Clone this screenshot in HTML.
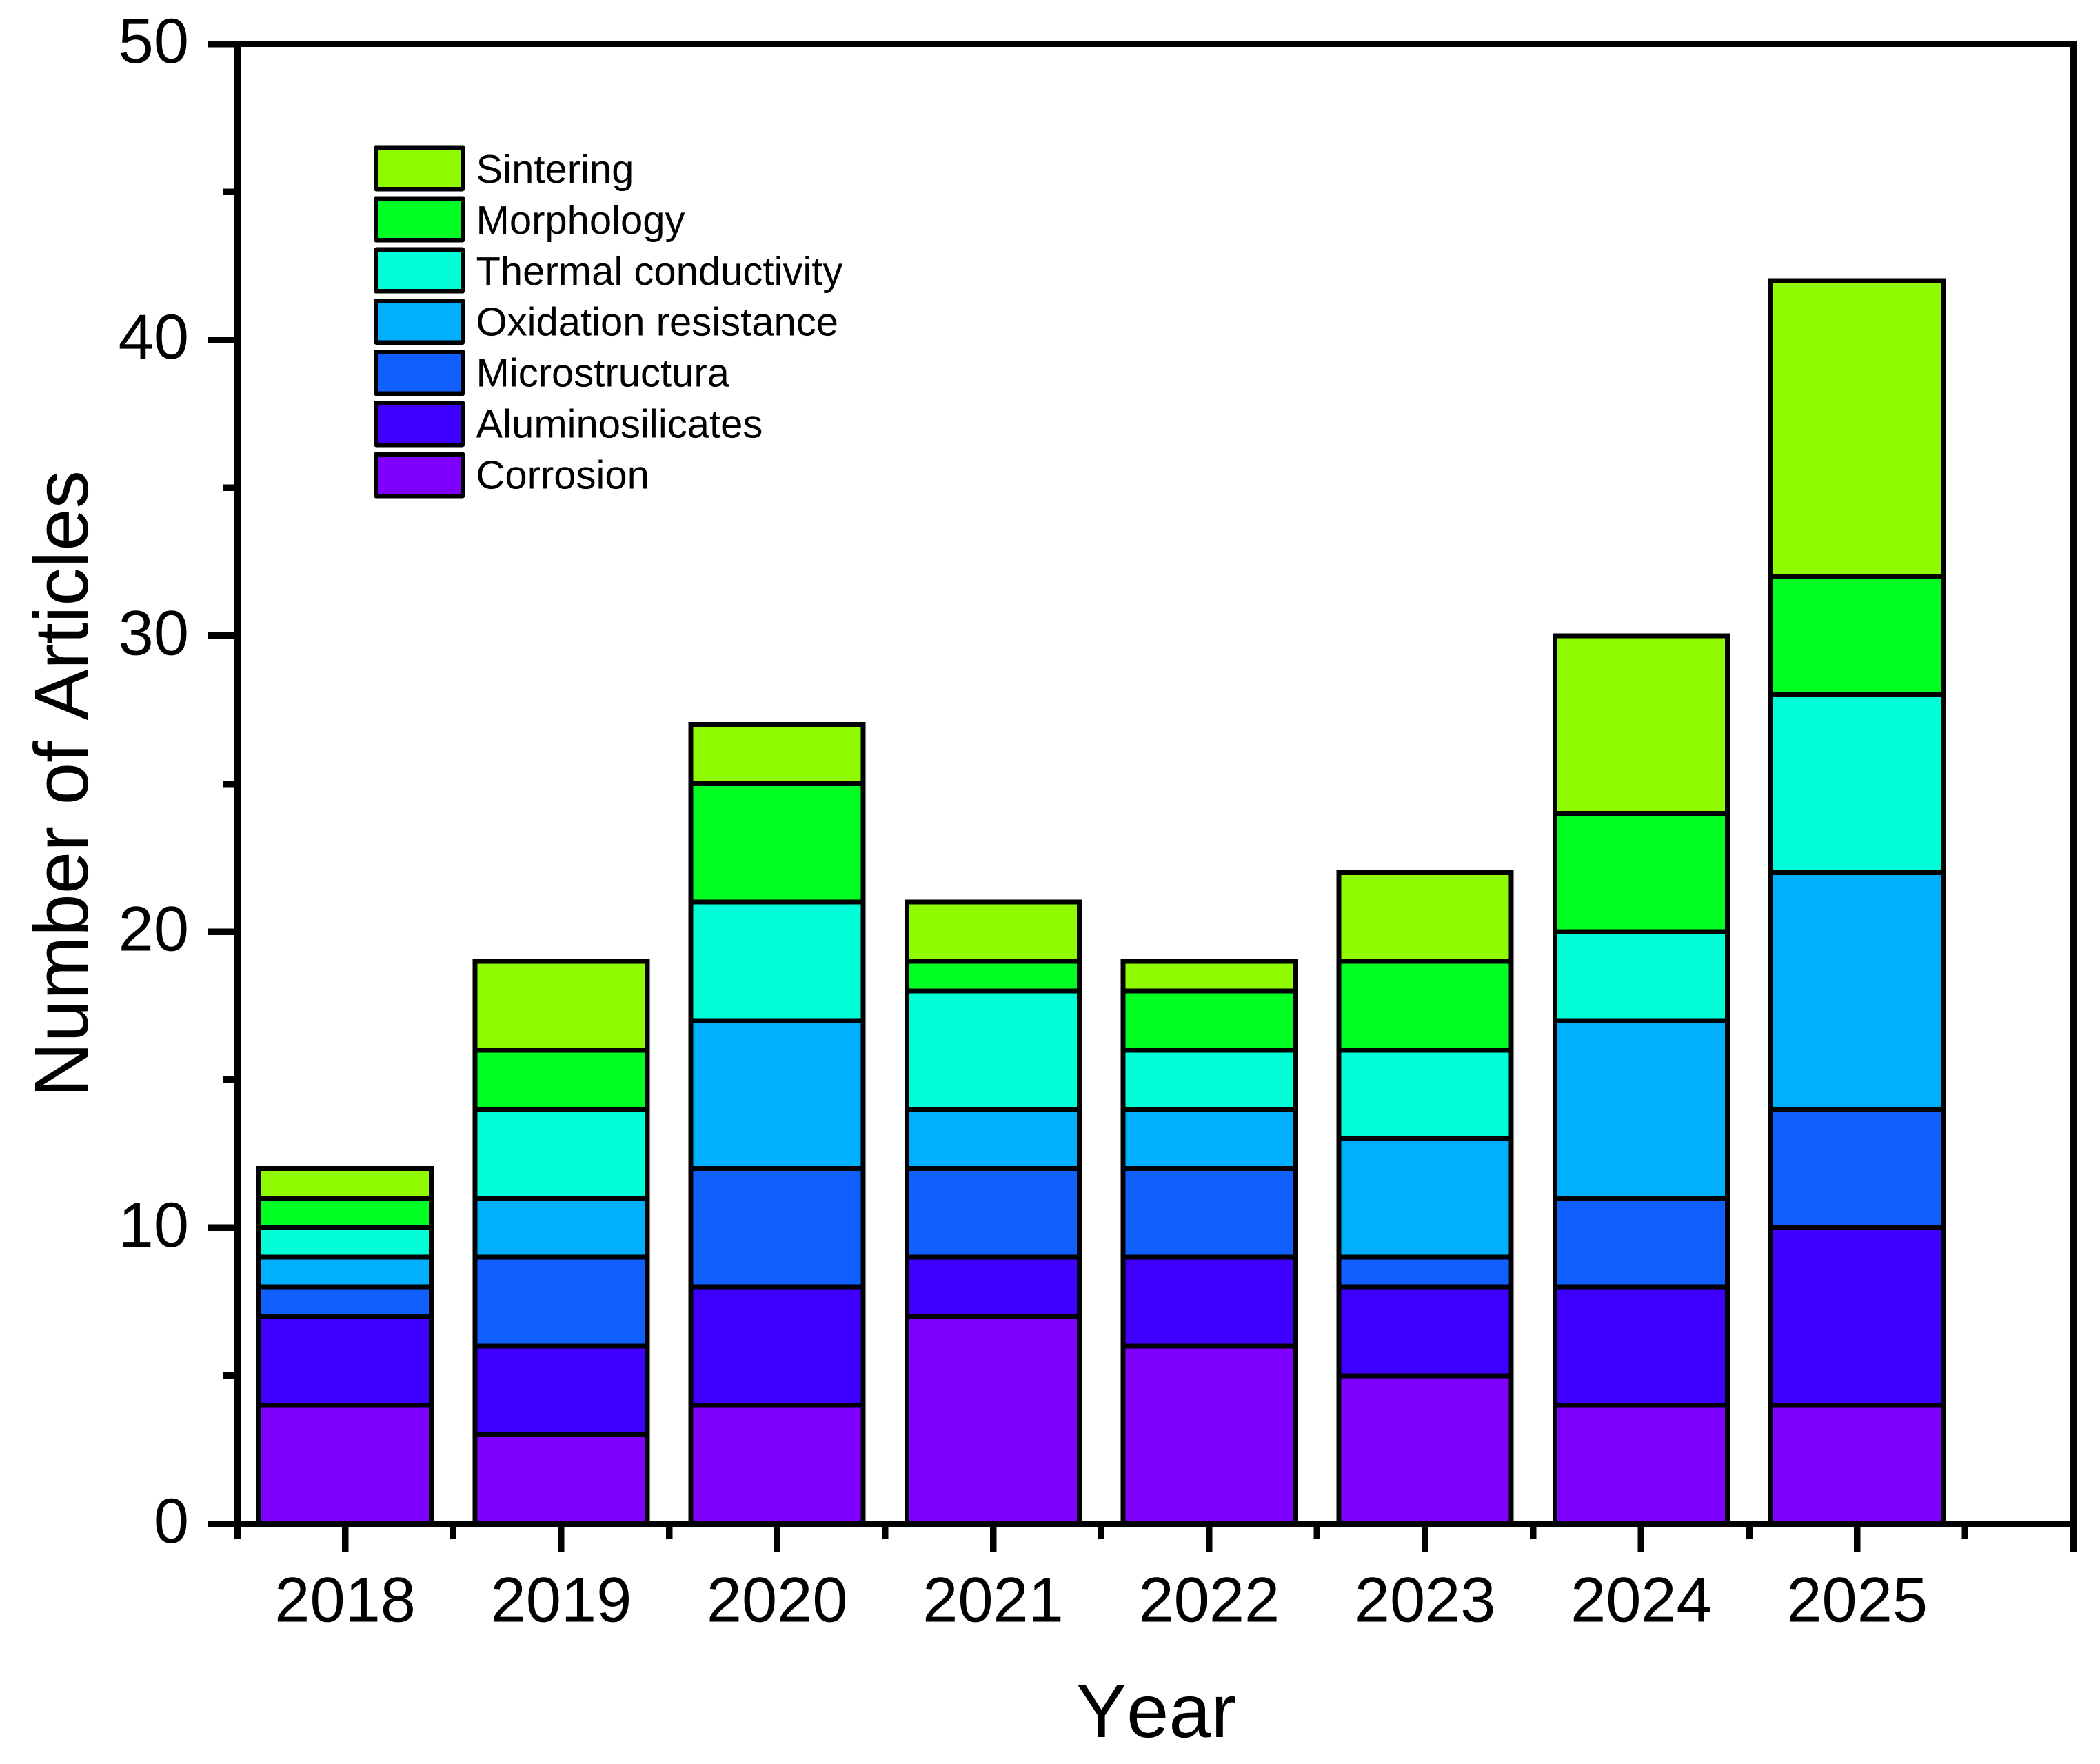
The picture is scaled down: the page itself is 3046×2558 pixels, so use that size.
<!DOCTYPE html>
<html lang="en">
<head>
<meta charset="utf-8">
<title>Number of Articles by Year</title>
<style>
html,body{margin:0;padding:0;background:#fff;width:3046px;height:2558px;overflow:hidden}
svg{display:block;font-family:"Liberation Sans",Arial,sans-serif;font-kerning:none;text-rendering:geometricPrecision}
#bars,#axes line,#legend rect{shape-rendering:crispEdges}
</style>
</head>
<body>
<svg id="chart" xmlns="http://www.w3.org/2000/svg" width="3046" height="2558" viewBox="0 0 3046 2558">
  <rect x="0" y="0" width="3046" height="2558" fill="#fff"/>
  <g id="bars"></g>
  <g id="axes"></g>
  <g id="legend"></g>
  <text x="1677" y="2519" font-size="110" text-anchor="middle" fill="#000">Year</text>
  <text transform="translate(127 1591) rotate(-90)" font-size="110.5" text-anchor="start" fill="#000">Number of Articles</text>
</svg>
<script>
const categories = [2018, 2019, 2020, 2021, 2022, 2023, 2024, 2025];
const corrosion = [4, 3, 4, 7, 6, 5, 4, 4];
const aluminosilicates = [3, 3, 4, 2, 3, 3, 4, 6];
const microstructura = [1, 3, 4, 3, 3, 1, 3, 4];
const oxidationResistance = [1, 2, 5, 2, 2, 4, 6, 8];
const thermalConductivity = [1, 3, 4, 4, 2, 3, 3, 6];
const morphology = [1, 2, 4, 1, 2, 3, 4, 4];
const sintering = [1, 3, 2, 2, 1, 3, 6, 10];
const seriesNames = ['Corrosion', 'Aluminosilicates', 'Microstructura', 'Oxidation resistance', 'Thermal conductivity', 'Morphology', 'Sintering'];
const seriesValues = [corrosion, aluminosilicates, microstructura, oxidationResistance, thermalConductivity, morphology, sintering];
const seriesColors = ['#7f00ff', '#3f00ff', '#0f60ff', '#00b0ff', '#00ffd9', '#00ff22', '#8ffa00'];
const yMajorTicks = [0, 10, 20, 30, 40, 50];
const yMinorTicks = [5, 15, 25, 35, 45];

const NS = 'http://www.w3.org/2000/svg';
const plotLeft = 344, plotRight = 3007, plotTop = 63.5, plotBottom = 2209.5;
const xMin = 2017.5, xMax = 2026, yMin = 0, yMax = 50;
const barWidthUnits = 0.798;

function xScale(v) { return plotLeft + (v - xMin) / (xMax - xMin) * (plotRight - plotLeft); }
function yScale(v) { return plotBottom - (v - yMin) / (yMax - yMin) * (plotBottom - plotTop); }

function make(tag, attrs, parent) {
  const el = document.createElementNS(NS, tag);
  for (const k in attrs) el.setAttribute(k, attrs[k]);
  parent.appendChild(el);
  return el;
}

const barsG = document.getElementById('bars');
const axesG = document.getElementById('axes');
const legendG = document.getElementById('legend');

// Stacked bars
categories.forEach(function (year, ci) {
  let base = 0;
  seriesValues.forEach(function (vals, si) {
    const v = vals[ci];
    const x0 = xScale(year - barWidthUnits / 2);
    const x1 = xScale(year + barWidthUnits / 2);
    const y1 = yScale(base);
    const y0 = yScale(base + v);
    const seg = make('rect', { x: x0, y: y0, width: x1 - x0, height: y1 - y0, fill: seriesColors[si], stroke: '#000', 'stroke-width': 7 }, barsG);
    
    
    base += v;
  });
});

// Axis frame
function axisLine(x1, y1, x2, y2, w, name) {
  const l = make('line', { x1: x1, y1: y1, x2: x2, y2: y2, stroke: '#000', 'stroke-width': w }, axesG);
  
  
  return l;
}
axisLine(plotLeft, plotTop, plotLeft, 2231, 9.5, 'y-axis-line');
axisLine(plotRight, plotTop - 4.5, plotRight, 2250, 9.5, 'right-axis-line');
axisLine(plotLeft, plotTop, plotRight, plotTop, 9, 'top-axis-line');
axisLine(plotLeft, plotBottom, plotRight, plotBottom, 9, 'x-axis-line');

// Y ticks
yMajorTicks.forEach(function (t) {
  axisLine(302, yScale(t), plotLeft, yScale(t), 9.5, 'y-major-tick-' + t);
  const lab = make('text', { x: 274, y: yScale(t) + 27.5, 'font-size': 92, 'text-anchor': 'end', fill: '#000' }, axesG);
  
  
  lab.textContent = String(t);
});
yMinorTicks.forEach(function (t) {
  axisLine(323, yScale(t), plotLeft, yScale(t), 9.5, 'y-minor-tick-' + t);
});

// X ticks
categories.forEach(function (year) {
  axisLine(xScale(year), plotBottom, xScale(year), 2250, 9.5, 'x-major-tick-' + year);
  axisLine(xScale(year - 0.5), plotBottom, xScale(year - 0.5), 2231, 9.5, 'x-minor-tick-' + year);
  const lab = make('text', { x: xScale(year), y: 2351.5, 'font-size': 92, 'text-anchor': 'middle', fill: '#000' }, axesG);
  
  
  lab.textContent = String(year);
});
axisLine(xScale(2025.5), plotBottom, xScale(2025.5), 2231, 9.5, 'x-minor-tick-2025-5');

// Legend (top entry is the last series)
seriesNames.slice().reverse().forEach(function (name, i) {
  const color = seriesColors[seriesNames.length - 1 - i];
  const slug = name.toLowerCase().replace(/ /g, '-');
  const sw = make('rect', { x: 545.5, y: 213.5 + 74.2 * i, width: 125.5, height: 60.5, fill: color, stroke: '#000', 'stroke-width': 6.5, 'stroke-linejoin': 'round' }, legendG);
  
  
  const tx = make('text', { x: 690.5, y: 265 + 73.9 * i, 'font-size': 58, fill: '#000' }, legendG);
  
  
  tx.textContent = name;
});
</script>
</body>
</html>
